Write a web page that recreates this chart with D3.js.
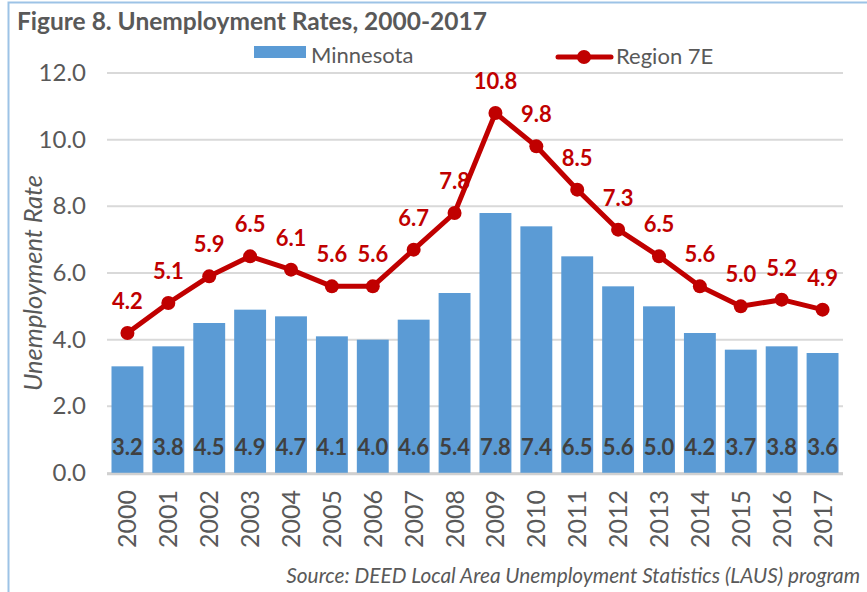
<!DOCTYPE html>
<html>
<head>
<meta charset="utf-8">
<title>Unemployment Rates</title>
<script src="https://d3js.org/d3.v7.min.js"></script>
<style>
  body { margin: 0; background: #fff; }
  text { font-family: Lato, "Open Sans", sans-serif; }
</style>
</head>
<body>
<div id="chart"></div>
<script>
// data
var years = ["2000","2001","2002","2003","2004","2005","2006","2007","2008",
             "2009","2010","2011","2012","2013","2014","2015","2016","2017"];
var minnesota = [3.2,3.8,4.5,4.9,4.7,4.1,4.0,4.6,5.4,7.8,7.4,6.5,5.6,5.0,4.2,3.7,3.8,3.6];
var region7E  = [4.2,5.1,5.9,6.5,6.1,5.6,5.6,6.7,7.8,10.8,9.8,8.5,7.3,6.5,5.6,5.0,5.2,4.9];
var yTicks = [0,2,4,6,8,10,12];

var W = 867, H = 592;
var svg = d3.select("#chart").append("svg")
    .attr("width", W).attr("height", H);

// outer frame
svg.append("rect")
    .attr("x", 8.5).attr("y", 2.5)
    .attr("width", W).attr("height", H)
    .attr("fill", "none").attr("stroke", "#9dc3e6").attr("stroke-width", 2);

var plotL = 107, plotR = 843, plotT = 73, plotB = 473;

var x = d3.scaleBand().domain(years).range([plotL, plotR]).paddingInner(0.22).paddingOuter(0.11);
var y = d3.scaleLinear().domain([0, 12]).range([plotB, plotT]);

// gridlines
svg.append("g").selectAll("line")
    .data(yTicks).enter().append("line")
    .attr("x1", plotL).attr("x2", plotR)
    .attr("y1", function(d) { return y(d); })
    .attr("y2", function(d) { return y(d); })
    .attr("stroke", "#d9d9d9")
    .attr("stroke-width", 2);

// y labels
svg.append("g").selectAll("text")
    .data(yTicks).enter().append("text")
    .attr("x", 86).attr("y", function(d) { return y(d) + 8; })
    .attr("text-anchor", "end")
    .style("font-size", "24px").attr("fill", "#595959")
    .text(function(d) { return d.toFixed(1); });

// axis title
svg.append("text")
    .attr("transform", "translate(42," + ((plotT + plotB) / 2 + 10) + ") rotate(-90)")
    .attr("text-anchor", "middle")
    .style("font-size", "25.5px").style("font-style", "italic")
    .attr("fill", "#595959")
    .text("Unemployment Rate");

// bars
svg.append("g").selectAll("rect")
    .data(minnesota).enter().append("rect")
    .attr("x", function(d, i) { return x(years[i]); })
    .attr("width", x.bandwidth())
    .attr("y", function(d) { return y(d); })
    .attr("height", function(d) { return plotB - y(d); })
    .attr("fill", "#5b9bd5");

// baseline over bars
svg.append("line")
    .attr("x1", plotL).attr("x2", plotR)
    .attr("y1", y(0) + 1).attr("y2", y(0) + 1)
    .attr("stroke", "#d0d0d0").attr("stroke-width", 2.5);

// bar labels
svg.append("g").selectAll("text")
    .data(minnesota).enter().append("text")
    .attr("x", function(d, i) { return x(years[i]) + x.bandwidth() / 2; })
    .attr("y", 455)
    .attr("text-anchor", "middle")
    .style("font-size", "22px").style("font-weight", "bold")
    .attr("fill", "#404040")
    .text(function(d) { return d.toFixed(1); });

// x labels
svg.append("g").selectAll("text")
    .data(years).enter().append("text")
    .attr("transform", function(d) {
        return "translate(" + (x(d) + x.bandwidth() / 2 + 9) + ",490) rotate(-90)";
    })
    .attr("text-anchor", "end")
    .style("font-size", "25px").attr("fill", "#595959")
    .text(function(d) { return d; });

// line
var line = d3.line()
    .x(function(d, i) { return x(years[i]) + x.bandwidth() / 2; })
    .y(function(d) { return y(d); });

svg.append("path")
    .datum(region7E)
    .attr("d", line)
    .attr("fill", "none")
    .attr("stroke", "#c00000")
    .attr("stroke-width", 5)
    .attr("stroke-linejoin", "round");

svg.append("g").selectAll("circle")
    .data(region7E).enter().append("circle")
    .attr("cx", function(d, i) { return x(years[i]) + x.bandwidth() / 2; })
    .attr("cy", function(d) { return y(d); })
    .attr("r", 7)
    .attr("fill", "#c00000");

svg.append("g").selectAll("text")
    .data(region7E).enter().append("text")
    .attr("x", function(d, i) { return x(years[i]) + x.bandwidth() / 2; })
    .attr("y", function(d) { return y(d) - 24; })
    .attr("text-anchor", "middle")
    .style("font-size", "22px").style("font-weight", "bold")
    .attr("fill", "#c00000")
    .text(function(d) { return d.toFixed(1); });

// title
svg.append("text")
    .attr("x", 17).attr("y", 30)
    .style("font-size", "24.5px").style("font-weight", "bold")
    .attr("fill", "#595959")
    .text("Figure 8. Unemployment Rates, 2000-2017");

// legend
svg.append("rect")
    .attr("x", 254).attr("y", 46).attr("width", 52).attr("height", 12)
    .attr("fill", "#5b9bd5");
svg.append("text")
    .attr("x", 311).attr("y", 63)
    .style("font-size", "22px").attr("fill", "#595959")
    .text("Minnesota");

svg.append("line")
    .attr("x1", 558).attr("x2", 611).attr("y1", 57).attr("y2", 57)
    .attr("stroke", "#c00000").attr("stroke-width", 5).attr("stroke-linecap", "round");
svg.append("circle")
    .attr("cx", 584).attr("cy", 57).attr("r", 7).attr("fill", "#c00000");
svg.append("text")
    .attr("x", 616).attr("y", 64)
    .style("font-size", "22px").attr("fill", "#595959")
    .text("Region 7E");

// source
svg.append("text")
    .attr("x", 860).attr("y", 583)
    .attr("text-anchor", "end")
    .style("font-size", "20.8px").style("font-style", "italic")
    .attr("fill", "#595959")
    .text("Source: DEED Local Area Unemployment Statistics (LAUS) program");
</script>
</body>
</html>
